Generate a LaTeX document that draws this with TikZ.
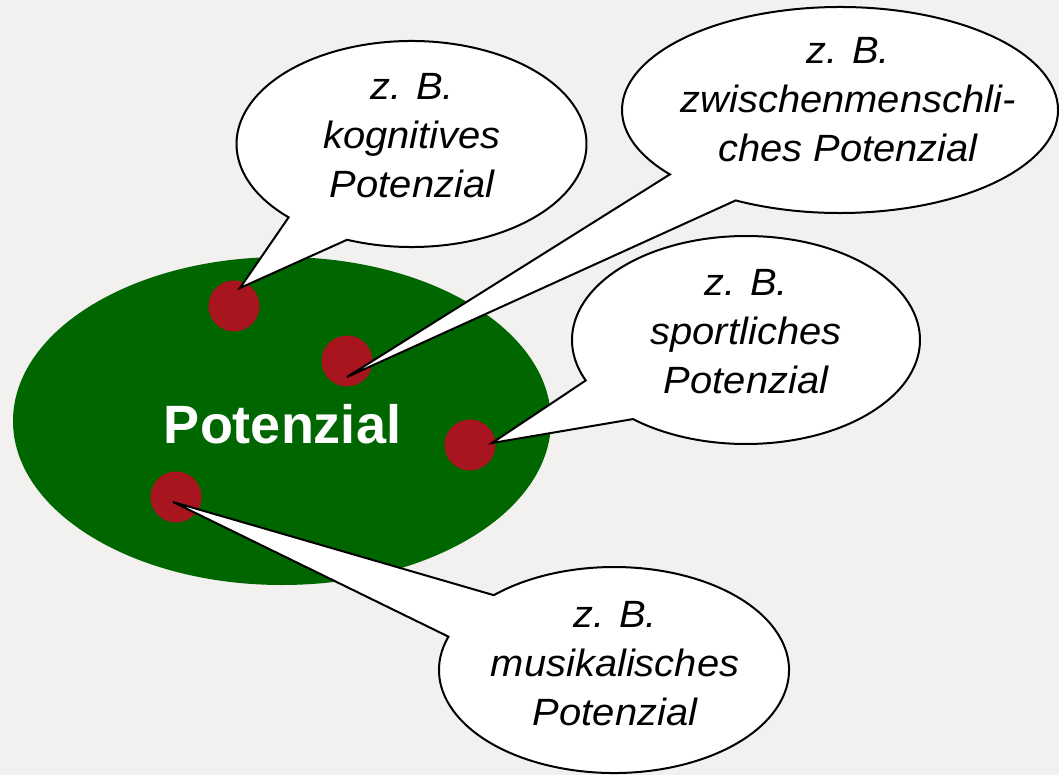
\documentclass[tikz,border=0pt]{standalone}
\usepackage{fontspec}
\setmainfont{Liberation Sans}
\newfontfamily\bubblefont[FakeStretch=1.05]{Liberation Sans}
\usetikzlibrary{calc}
\definecolor{bg}{HTML}{F2F1F0}
\definecolor{potgreen}{HTML}{006600}
\definecolor{dotred}{HTML}{A8151F}
\begin{document}
\begin{tikzpicture}[x=1pt,y=-1pt,
  bubble/.style={fill=white,draw=black,line width=2pt,line join=miter},
  dot/.style={circle,fill=dotred,minimum size=51pt,inner sep=0pt,outer sep=0pt},
  bubbletext/.style={font=\bubblefont\itshape\fontsize{38}{49}\selectfont,align=center,inner sep=0pt,text=black},
  maintext/.style={font=\bfseries\fontsize{54}{60}\selectfont,text=white,inner sep=0pt}
]
\useasboundingbox (0,0) rectangle (1059,775);
\fill[bg] (0,0) rectangle (1059,775);

% main ellipse
\coordinate (g) at (282,421);
\fill[potgreen] (g) ellipse[x radius=269, y radius=164];
\node[maintext, anchor=base] (pot) at (282.5,443) {Potenzial};

% dots
\node[dot] (d1) at (234,306) {};
\node[dot] (d2) at (347,361) {};
\node[dot] (d3) at (470,445) {};
\node[dot] (d4) at (176,497) {};

% tail tips
\coordinate (tip1) at ($(d1)+(6,-18)$);
\coordinate (tip2) at ($(d2)+(0,16)$);
\coordinate (tip3) at ($(d3)+(22,-2)$);
\coordinate (tip4) at ($(d4)+(-3,5)$);

% bubble centres
\coordinate (c1) at (411.5,144);
\coordinate (c2) at (840,110);
\coordinate (c3) at (746,340);
\coordinate (c4) at (614,670);

% bubbles with tails
\path[bubble] ($(c1)+(111.6:175 and 103)$) arc[start angle=111.6, end angle=-225.4, x radius=175, y radius=103] -- (tip1) -- cycle;
\path[bubble] ($(c2)+(118.6:218 and 103)$) arc[start angle=118.6, end angle=-218.7, x radius=218, y radius=103] -- (tip2) -- cycle;
\path[bubble] ($(c3)+(130.5:174 and 104)$) arc[start angle=130.5, end angle=-202.9, x radius=174, y radius=104] -- (tip3) -- cycle;
\path[bubble] ($(c4)+(198.9:175 and 103)$) arc[start angle=198.9, end angle=-133.4, x radius=175, y radius=103] -- (tip4) -- cycle;

% texts
\node[bubbletext] (t1) at (412,135.4) {z. B.\\kognitives\\Potenzial};
\node[bubbletext] (t2) at (848,99.9) {z. B.\\zwischenmenschli-\\ches Potenzial};
\node[bubbletext] (t3) at (746,331.4) {z. B.\\sportliches\\Potenzial};
\node[bubbletext] (t4) at (615,663.9) {z. B.\\musikalisches\\Potenzial};
\end{tikzpicture}
\end{document}
